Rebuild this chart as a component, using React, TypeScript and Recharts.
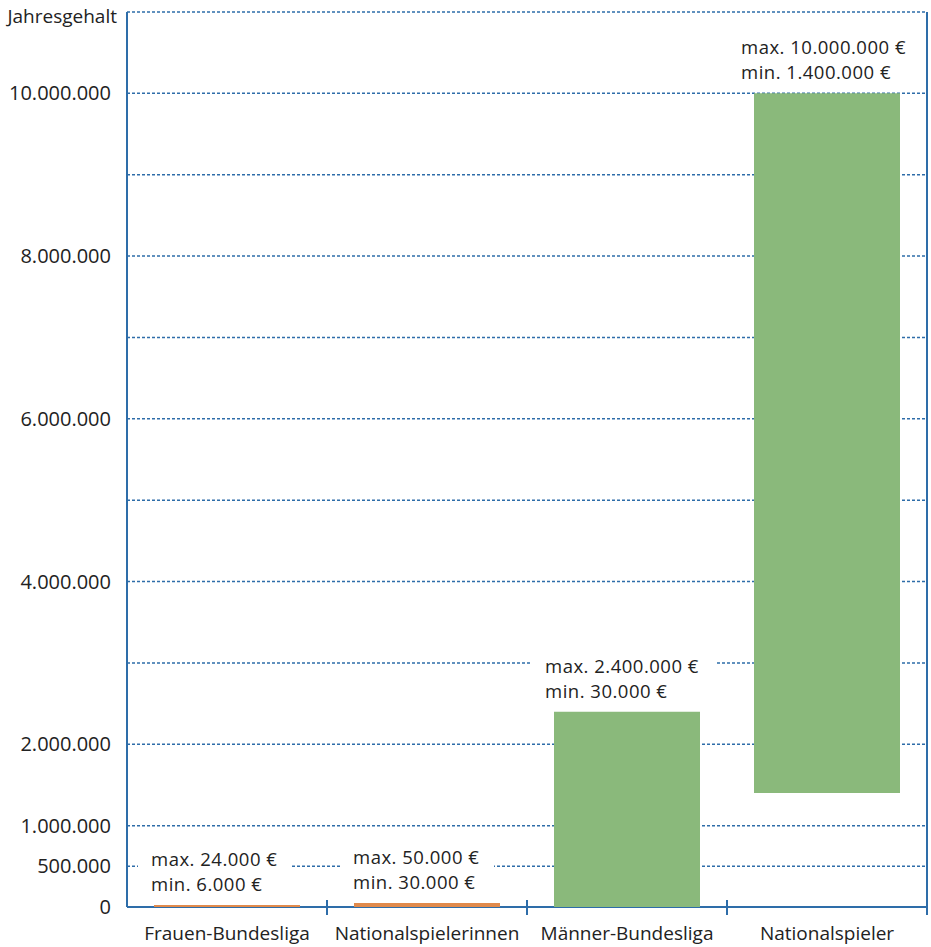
import { BarChart, Bar, XAxis, YAxis, CartesianGrid, Cell, LabelList } from 'recharts';

const categories = ['Frauen-Bundesliga', 'Nationalspielerinnen', 'Männer-Bundesliga', 'Nationalspieler'];
const maxSalary = [24000, 50000, 2400000, 10000000];
const minSalary = [6000, 30000, 30000, 1400000];
// unteres Ende der gezeichneten Balken (so wie im Bild)
const barFrom = [0, 0, 0, 1400000];
const maxLabels = ['max. 24.000 €', 'max. 50.000 €', 'max. 2.400.000 €', 'max. 10.000.000 €'];
const minLabels = ['min. 6.000 €', 'min. 30.000 €', 'min. 30.000 €', 'min. 1.400.000 €'];
const yTicks = [0, 500000, 1000000, 2000000, 3000000, 4000000, 5000000, 6000000, 7000000, 8000000, 9000000, 10000000, 11000000];
const yTickLabels = ['0', '500.000', '1.000.000', '2.000.000', '', '4.000.000', '', '6.000.000', '', '8.000.000', '', '10.000.000', 'Jahresgehalt'];

const BLUE = '#2E6DA9';
const GREEN = '#8AB97B';
const ORANGE = '#E08A4C';
const TEXT = '#222';
const FONT = '"Open Sans", sans-serif';
const BAND = 200;
const labelDx = [-3, -1, -9, -13];

const data = categories.map((name, i) => ({
  name,
  range: [barFrom[i], maxSalary[i]],
  min: minSalary[i],
  max: maxSalary[i],
}));

const YTick = (props: any) => {
  const { x, y, payload } = props;
  const idx = yTicks.indexOf(payload.value);
  const label = yTickLabels[idx];
  const isTop = idx === yTicks.length - 1;
  return (
    <text
      x={isTop ? x + 6 : x}
      y={y}
      dy={isTop ? 11 : 7}
      textAnchor="end"
      fill={TEXT}
      fontSize={isTop ? 19 : 20}
      fontFamily={FONT}
    >
      {label}
    </text>
  );
};

const XTick = (props: any) => {
  const { x, y, payload } = props;
  return (
    <g>
      <line x1={x + BAND / 2} x2={x + BAND / 2} y1={y - 7} y2={y + 8} stroke={BLUE} strokeWidth={2} />
      <text x={x} y={y} dy={33} textAnchor="middle" fill={TEXT} fontSize={19} fontFamily={FONT}>
        {payload.value}
      </text>
    </g>
  );
};

const RangeLabel = (props: any) => {
  const { x, y, index } = props;
  const tx = x + labelDx[index];
  const minY = y - 14;
  const maxY = minY - 25;
  const w = maxLabels[index].length * 10;
  return (
    <g>
      <rect x={tx - 13} y={maxY - 19} width={w + 24} height={48} fill="#fff" />
      <text x={tx} y={maxY} fill={TEXT} fontSize={18.5} letterSpacing={0.5} fontFamily={FONT}>
        {maxLabels[index]}
      </text>
      <text x={tx} y={minY} fill={TEXT} fontSize={18.5} letterSpacing={0.5} fontFamily={FONT}>
        {minLabels[index]}
      </text>
    </g>
  );
};

export default function App() {
  return (
    <div style={{ position: 'absolute', left: 0, top: 0, background: '#fff' }}>
      <BarChart
        width={931}
        height={947}
        data={data}
        margin={{ top: 12, right: 0, left: 0, bottom: 0 }}
        barCategoryGap={27}
      >
        <CartesianGrid vertical={false} stroke={BLUE} strokeDasharray="3 2" strokeWidth={1.5} />
        {/* durchgezogene Grundlinie unter den Balken */}
        <CartesianGrid vertical={false} horizontalValues={[0]} stroke={BLUE} strokeWidth={2} />
        <XAxis
          dataKey="name"
          height={40}
          axisLine={false}
          tickLine={false}
          tickSize={0}
          tickMargin={0}
          tick={<XTick />}
          interval={0}
        />
        <YAxis
          width={127}
          domain={[0, 11000000]}
          ticks={yTicks}
          interval={0}
          axisLine={{ stroke: BLUE, strokeWidth: 2 }}
          tickLine={false}
          tickMargin={10}
          tick={<YTick />}
        />
        <YAxis
          yAxisId="right"
          orientation="right"
          width={4}
          domain={[0, 11000000]}
          tick={false}
          tickLine={false}
          axisLine={{ stroke: BLUE, strokeWidth: 2 }}
        />
        <Bar dataKey="range" isAnimationActive={false}>
          {data.map((d, i) => (
            <Cell key={d.name} fill={i < 2 ? ORANGE : GREEN} />
          ))}
          <LabelList dataKey="max" content={<RangeLabel />} />
        </Bar>
      </BarChart>
    </div>
  );
}
